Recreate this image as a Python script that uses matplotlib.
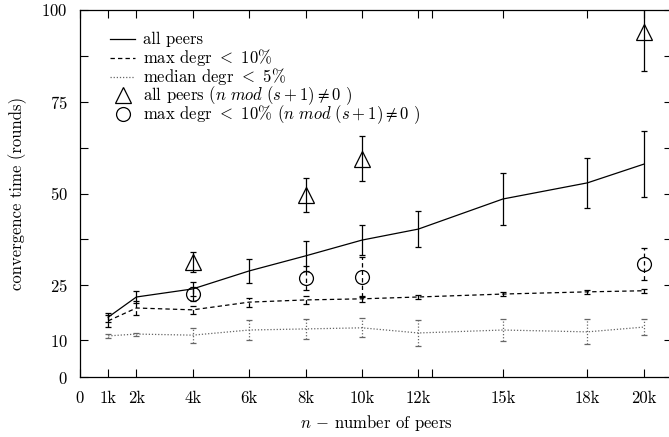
import numpy as np
import matplotlib
matplotlib.use("Agg")
import matplotlib.pyplot as plt
from matplotlib.ticker import FixedLocator, FixedFormatter

plt.rcParams['font.family'] = 'cmr10'
plt.rcParams['mathtext.fontset'] = 'cm'
plt.rcParams['axes.formatter.use_mathtext'] = True

# data
peers = [1000, 2000, 4000, 6000, 8000, 10000, 12000, 15000, 18000, 20000]

all_peers = [16.3, 21.8, 24.0, 28.9, 33.0, 37.3, 40.3, 48.5, 52.9, 58.0]
all_peers_err = [1.2, 1.6, 2.0, 3.3, 4.0, 4.1, 4.8, 7.0, 6.8, 9.0]

max_degr = [15.3, 18.8, 18.3, 20.4, 21.0, 21.3, 21.8, 22.6, 23.2, 23.5]
max_degr_err = [1.6, 1.8, 1.0, 1.2, 1.0, 0.8, 0.6, 0.6, 0.5, 0.6]

median_degr = [11.2, 11.7, 11.4, 12.8, 13.1, 13.4, 12.0, 12.8, 12.3, 13.6]
median_degr_err = [0.5, 0.4, 2.0, 2.7, 2.7, 2.6, 3.6, 2.9, 3.4, 2.2]

mod_peers = [4000, 8000, 10000, 20000]
mod_all = [31.3, 49.5, 59.5, 94.0]
mod_all_err = [2.7, 4.6, 6.2, 10.5]
mod_max = [22.6, 27.0, 27.2, 30.8]
mod_max_err = [2.0, 3.2, 5.5, 4.4]

x_ticks = [0, 1000, 2000, 4000, 6000, 8000, 10000, 12000, 15000, 18000, 20000]
x_labels = ['0', '1k', '2k', '4k', '6k', '8k', '10k', '12k', '15k', '18k', '20k']
y_ticks = [0, 10, 25, 50, 75, 100]
y_minor = [37.5, 62.5, 87.5]

legend_labels = [
    'all peers',
    r'max degr $<$ 10%',
    r'median degr $<$ 5%',
    r'all peers ($n\ mod\ (s+1) \neq 0$ )',
    r'max degr $<$ 10% ($n\ mod\ (s+1) \neq 0$ )',
]

fig = plt.figure(figsize=(6.69, 4.37), dpi=100)
ax = fig.add_axes([80 / 669, 60 / 437, 592 / 669, 367 / 437])
ax.set_xlim(0, 21000)
ax.set_ylim(0, 100)

dash = (0, (3.5, 2.5))
dot = (0, (1, 1.5))
gray = '#666666'


def eb(x, y, err, ls, color, marker=None, ms=0, line=True):
    line_ls = ls if line else 'none'
    res = ax.errorbar(x, y, yerr=err, color=color, linestyle=line_ls, lw=0.9,
                      elinewidth=0.9, capsize=2.5, capthick=0.9,
                      marker=marker, ms=ms, mfc='none', mec='black', mew=0.9)
    for bc in res[2]:
        bc.set_linestyle(ls)
    return res


eb(peers, all_peers, all_peers_err, '-', 'black')
eb(peers, max_degr, max_degr_err, dash, 'black')
eb(peers, median_degr, median_degr_err, dot, gray)
eb(mod_peers, mod_all, mod_all_err, '-', 'black', marker='^', ms=11, line=False)
eb(mod_peers, mod_max, mod_max_err, dash, 'black', marker='o', ms=10, line=False)

ax.xaxis.set_major_locator(FixedLocator(x_ticks))
ax.xaxis.set_major_formatter(FixedFormatter(x_labels))
ax.xaxis.set_minor_locator(FixedLocator([12500]))
ax.yaxis.set_major_locator(FixedLocator(y_ticks))
ax.yaxis.set_minor_locator(FixedLocator(y_minor))
ax.tick_params(which='both', direction='in', top=True, right=True, labelsize=12)
ax.tick_params(which='major', length=6, width=0.8)
ax.tick_params(which='minor', length=6, width=0.8)
ax.tick_params(axis='x', pad=10)
ax.tick_params(axis='y', pad=9)
for s in ax.spines.values():
    s.set_linewidth(0.9)

ax.set_xlabel(r'$n$ $-$ number of peers', fontsize=12, labelpad=5)
ax.set_ylabel('convergence time (rounds)', fontsize=12, labelpad=10)

# hand-placed key, gnuplot style (even row spacing)
styles = [
    dict(color='black', lw=0.9, ls='-'),
    dict(color='black', lw=0.9, ls=dash),
    dict(color=gray, lw=0.9, ls=dot),
    dict(color='black', ls='none', marker='^', ms=11, mfc='none', mew=0.9),
    dict(color='black', ls='none', marker='o', ms=10, mfc='none', mew=0.9),
]
x0, x1, xt = (110 - 80) / 592, (135 - 80) / 592, (143 - 80) / 592
for i, (lab, st) in enumerate(zip(legend_labels, styles)):
    yy = 1 - (39 + 18.8 * i - 10) / 367
    if st.get('marker'):
        ax.plot([(x0 + x1) / 2], [yy], transform=ax.transAxes, clip_on=False, **st)
    else:
        ax.plot([x0, x1], [yy, yy], transform=ax.transAxes, clip_on=False, **st)
    ax.text(xt, yy, lab, transform=ax.transAxes, fontsize=12, va='center', ha='left')

fig.savefig('out.png', dpi=100)
